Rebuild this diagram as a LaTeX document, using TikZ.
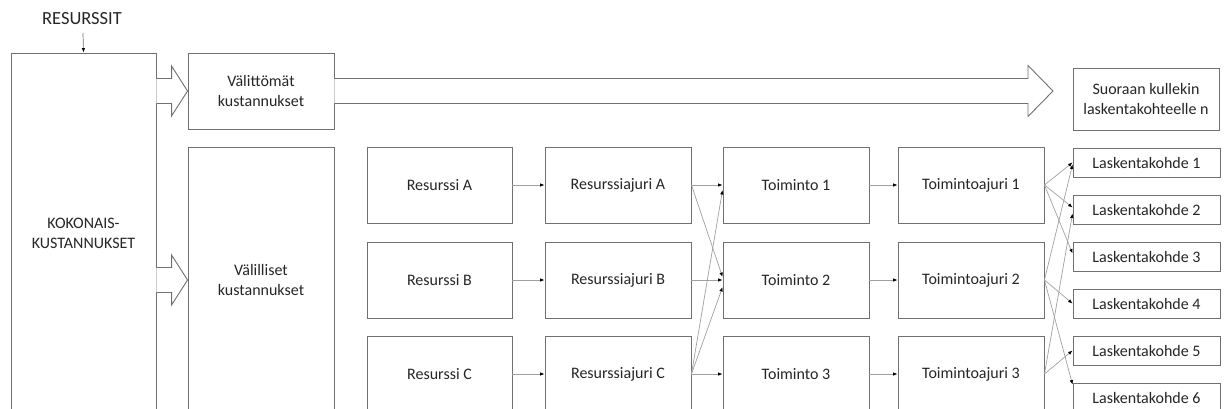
\documentclass[tikz,border=0pt]{standalone}
\usepackage{fontspec}
\setmainfont{Carlito}
\usepackage{tikz}
\usetikzlibrary{arrows.meta,calc}
\definecolor{HarmaaReuna}{RGB}{112,112,112}
\definecolor{HarmaaViiva}{RGB}{160,160,160}
\definecolor{TekstiMusta}{RGB}{38,38,38}

\begin{document}
\begin{tikzpicture}[x=1pt,y=-1pt,>=Latex,
    laatikko/.style={draw=HarmaaReuna,line width=0.9pt,fill=white,inner sep=0pt,align=center,
      text=TekstiMusta,font=\fontsize{16}{20}\selectfont},
    rivi/.style={laatikko,minimum width=145,minimum height=76},
    kohde/.style={laatikko,minimum width=147,minimum height=29},
    yhteys/.style={draw=HarmaaViiva,line width=0.7pt,-{Latex[length=4.5pt,width=3.5pt,color=black]}},
    isonuoli/.style={draw=HarmaaReuna,line width=0.9pt,fill=white,line join=miter}]
  \useasboundingbox (0,0) rectangle (1224,408);
  \clip (0,0) rectangle (1224,408);

  \node[laatikko,draw=none,fill=none,font=\fontsize{18.5}{22}\selectfont] (res) at (82,19) {RESURSSIT};
  \coordinate (resalku) at (83,33);
  \node[laatikko,minimum width=145,minimum height=360] (koko) at (83.5,233) {KOKONAIS-\\KUSTANNUKSET};
  \node[laatikko,minimum width=146,minimum height=76] (valit) at (261,91) {Välittömät\\kustannukset};
  \node[laatikko,minimum width=146,minimum height=266] (valil) at (261,280) {Välilliset\\kustannukset};
  \node[laatikko,minimum width=146,minimum height=62] (suora) at (1146,99) {Suoraan kullekin\\laskentakohteelle n};
  \coordinate (karki) at (1053,91);

  \node[rivi] (resA) at (439.5,185) {Resurssi A};
  \node[rivi] (resB) at (439.5,280) {Resurssi B};
  \node[rivi] (resC) at (439.5,374) {Resurssi C};
  \node[rivi,minimum width=146] (ajuA) at (618,185) {Resurssiajuri A};
  \node[rivi,minimum width=146] (ajuB) at (618,280) {Resurssiajuri B};
  \node[rivi,minimum width=146] (ajuC) at (618,374) {Resurssiajuri C};
  \node[rivi,minimum width=146] (toim1) at (796,185) {Toiminto 1};
  \node[rivi,minimum width=146] (toim2) at (796,280) {Toiminto 2};
  \node[rivi,minimum width=146] (toim3) at (796,374) {Toiminto 3};
  \node[rivi,minimum width=146] (tajuri1) at (971,185) {Toimintoajuri 1};
  \node[rivi,minimum width=146] (tajuri2) at (971,280) {Toimintoajuri 2};
  \node[rivi,minimum width=146] (tajuri3) at (971,374) {Toimintoajuri 3};
  \foreach \i in {1,...,6}
    \node[kohde] (lk\i) at (1146.5,{162.5+47*(\i-1)}) {Laskentakohde \i};

  \draw[isonuoli] ($(koko.east |- valit.west)+(0,-12.5)$) -- ($(valit.west)+(-16,-12.5)$)
    -- ($(valit.west)+(-16,-25)$) -- (valit.west) -- ($(valit.west)+(-16,25)$)
    -- ($(valit.west)+(-16,12.5)$) -- ($(koko.east |- valit.west)+(0,12.5)$);
  \draw[isonuoli] ($(koko.east |- valil.west)+(0,-12.5)$) -- ($(valil.west)+(-16,-12.5)$)
    -- ($(valil.west)+(-16,-25)$) -- (valil.west) -- ($(valil.west)+(-16,25)$)
    -- ($(valil.west)+(-16,12.5)$) -- ($(koko.east |- valil.west)+(0,12.5)$);
  \draw[isonuoli] ($(valit.east)+(0,-12.5)$) -- ($(karki)+(-25,-12.5)$)
    -- ($(karki)+(-25,-25.5)$) -- (karki) -- ($(karki)+(-25,25.5)$)
    -- ($(karki)+(-25,12.5)$) -- ($(valit.east)+(0,12.5)$);

  \draw[yhteys,draw=HarmaaReuna] (resalku) -- (koko.north);
  \draw[yhteys] (resA.east) -- (ajuA.west);
  \draw[yhteys] (resB.east) -- (ajuB.west);
  \draw[yhteys] (resC.east) -- (ajuC.west);
  \draw[yhteys] (ajuA.east) -- (toim1.west);
  \draw[yhteys] (ajuA.east) -- ($(toim2.west)+(0,-3)$);
  \draw[yhteys] (ajuB.east) -- (toim2.west);
  \draw[yhteys] (ajuC.east) -- ($(toim1.west)+(0,5)$);
  \draw[yhteys] (ajuC.east) -- ($(toim2.west)+(0,7)$);
  \draw[yhteys] (ajuC.east) -- (toim3.west);
  \draw[yhteys] (toim1.east) -- (tajuri1.west);
  \draw[yhteys] (toim2.east) -- (tajuri2.west);
  \draw[yhteys] (toim3.east) -- (tajuri3.west);
  \draw[yhteys] (tajuri1.east) -- (lk1.west);
  \draw[yhteys] (tajuri1.east) -- ($(lk2.west)+(0,-2)$);
  \draw[yhteys] (tajuri1.east) -- ($(lk3.west)+(0,-3)$);
  \draw[yhteys] (tajuri2.east) -- ($(lk1.west)+(0,2)$);
  \draw[yhteys] (tajuri2.east) -- (lk4.west);
  \draw[yhteys] (tajuri2.east) -- ($(lk6.north west)+(0,2)$);
  \draw[yhteys] (tajuri3.east) -- ($(lk2.west)+(0,4)$);
  \draw[yhteys] (tajuri3.east) -- (lk5.west);
\end{tikzpicture}
\end{document}
